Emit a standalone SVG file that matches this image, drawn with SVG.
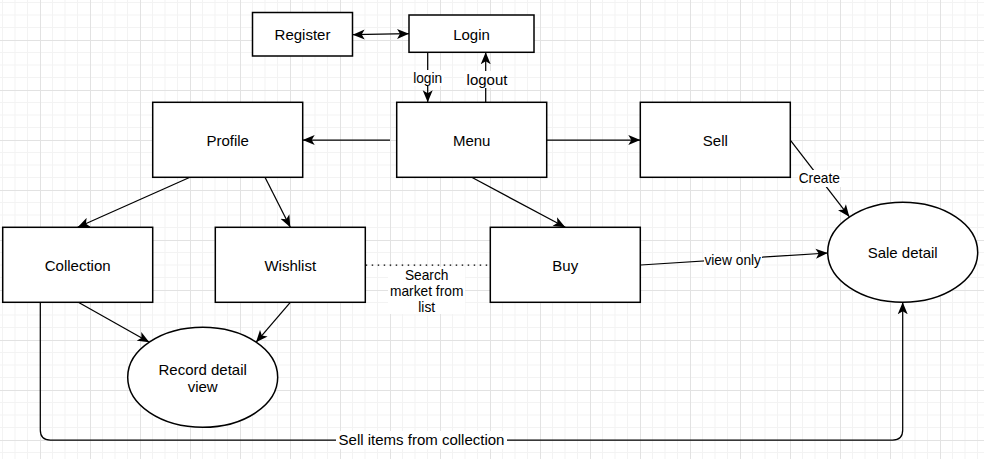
<svg xmlns="http://www.w3.org/2000/svg" width="984" height="459" viewBox="0 0 984 459">
<defs>
<pattern id="grid" x="40" y="40" width="50" height="50" patternUnits="userSpaceOnUse">
<path d="M12.5,0V50M25,0V50M37.5,0V50M0,12.5H50M0,25H50M0,37.5H50" stroke="#f3f3f3" stroke-width="1" fill="none"/>
<path d="M0.5,0V50M0,0.5H50" stroke="#e2e2e2" stroke-width="1" fill="none"/>
</pattern>
<marker id="arr" markerUnits="userSpaceOnUse" markerWidth="13" markerHeight="11" refX="12" refY="5" orient="auto-start-reverse" viewBox="0 0 13 10">
<path d="M0,0 L12,5 L0,10 L3,5 Z" fill="#000"/>
</marker>
<style>
.n{fill:#fff;stroke:#000;stroke-width:1.5}
.t{font-family:"Liberation Sans",Arial,sans-serif;font-size:15px;fill:#000;text-anchor:middle}
.s{font-family:"Liberation Sans",Arial,sans-serif;font-size:13.75px;fill:#000;text-anchor:middle}
.e{fill:none;stroke:#000;stroke-width:1.25}
.a{marker-end:url(#arr)}
.bg{fill:#fff}
</style>
</defs>
<rect width="984" height="459" fill="#fff"/>
<rect width="984" height="459" fill="url(#grid)"/>

<g id="connectors">
<path class="e a" d="M352.7,34.7 L409,33.7" marker-start="url(#arr)"/>
<path class="e a" d="M427.7,52.3 V102.3"/>
<path class="e a" d="M485.7,102.3 V52.3"/>
<path class="e a" d="M390,140 H302.7"/>
<path class="e a" d="M546.7,140 H640.3"/>
<path class="e a" d="M471.7,177.3 L565.3,227.3"/>
<path class="e a" d="M190,177.3 L77.7,227.3"/>
<path class="e a" d="M265,177.3 L290.3,227.3"/>
<path class="e" d="M365.7,265 H490.3" stroke-dasharray="1.5 4.5"/>
<path class="e a" d="M78.3,302.3 L149.3,342.3"/>
<path class="e a" d="M290.3,302.3 L256,342.3"/>
<path class="e a" d="M790.7,140.7 L849.3,216.7"/>
<path class="e a" d="M640.7,265 L827.7,253"/>
<path class="e a" d="M40.3,302.3 V430 Q40.3,440 50.3,440 H892.7 Q902.7,440 902.7,430 V302.3"/>
<rect class="bg" x="412" y="70" width="32" height="16"/>
<text class="s" x="427.7" y="82.5" font-size="12.5">login</text>
<rect class="bg" x="464" y="71" width="44" height="17"/>
<text class="t" x="487" y="85">logout</text>
<rect class="bg" x="388" y="267" width="77" height="47"/>
<text class="s" x="426.7" y="280">Search</text>
<text class="s" x="426.7" y="296">market from</text>
<text class="s" x="426.7" y="312">list</text>
<rect class="bg" x="798" y="170" width="43" height="17"/>
<text class="s" x="819.3" y="183">Create</text>
<rect class="bg" x="704" y="252" width="58" height="17"/>
<text class="s" x="732.7" y="265">view only</text>
<rect class="bg" x="336" y="431" width="171" height="18"/>
<text class="t" x="421.5" y="445">Sell items from collection</text>
</g>

<g id="register"><rect class="n" x="252.5" y="12.5" width="100" height="43.5"/><text class="t" x="302.5" y="40">Register</text></g>
<g id="login"><rect class="n" x="409" y="15" width="125" height="37.3"/><text class="t" x="471.5" y="40">Login</text></g>
<g id="menu"><rect class="n" x="396.7" y="102.3" width="150" height="75"/><text class="t" x="471.7" y="146">Menu</text></g>
<g id="profile"><rect class="n" x="152.7" y="102.3" width="150" height="75"/><text class="t" x="227.7" y="146">Profile</text></g>
<g id="sell"><rect class="n" x="640.3" y="102.3" width="150" height="75"/><text class="t" x="715.3" y="146">Sell</text></g>
<g id="collection"><rect class="n" x="2.7" y="227.3" width="150" height="75"/><text class="t" x="77.7" y="271">Collection</text></g>
<g id="wishlist"><rect class="n" x="215.3" y="227.3" width="150" height="75"/><text class="t" x="290.3" y="271">Wishlist</text></g>
<g id="buy"><rect class="n" x="490.3" y="227.3" width="150" height="75"/><text class="t" x="565.3" y="271">Buy</text></g>
<g id="record-detail"><ellipse class="n" cx="202.7" cy="377.3" rx="75" ry="50"/><text class="t" x="202.7" y="375">Record detail</text><text class="t" x="202.7" y="392">view</text></g>
<g id="sale-detail"><ellipse class="n" cx="902.7" cy="252.3" rx="75" ry="50"/><text class="t" x="902.7" y="258">Sale detail</text></g>
</svg>
